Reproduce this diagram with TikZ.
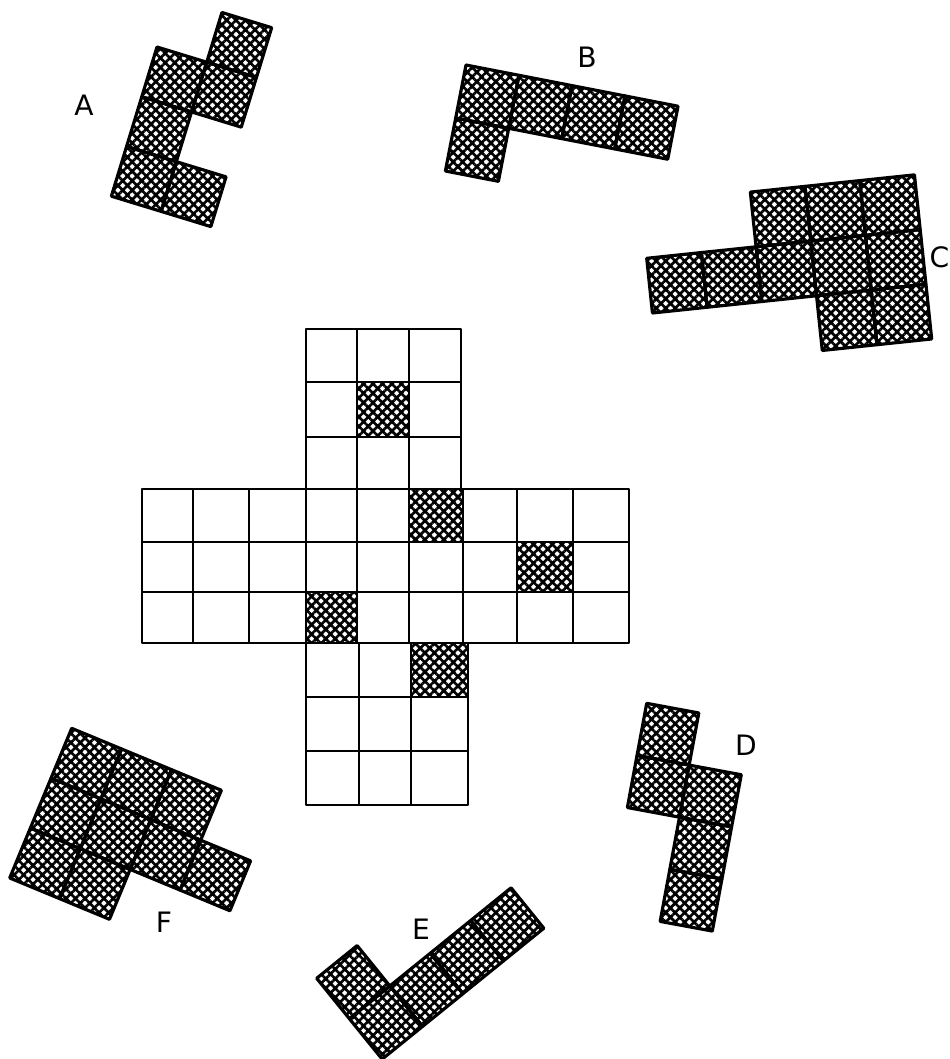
\documentclass[tikz,border=0pt]{standalone}
\usepackage{fontspec}
\setmainfont{DejaVu Sans}
\usetikzlibrary{patterns.meta}
\tikzset{
  gridline/.style={line width=3.5pt, line join=round, line cap=round},
  hatchfill/.style={pattern={Hatch[angle=45,distance=9.5pt,line width=3.8pt]}},
  hatchcell/.style={hatchfill, draw, line width=4.5pt, line join=round},
  lbl/.style={font=\fontsize{40}{40}\selectfont, inner sep=0pt}
}
\newcommand\polypiece[5]{%
  \begin{scope}[shift={(#1,#2)},rotate=#3]
    \foreach \i/\j in {#5}
      \draw[hatchcell] (\i*#4,\j*#4) -- ++(#4,0) -- ++(0,#4) -- ++(-#4,0) -- cycle;
  \end{scope}}
\begin{document}
\begin{tikzpicture}[x=0.05cm,y=-0.05cm]
\useasboundingbox (0,0) rectangle (950,1059);
% central board: hatched cells
\foreach \xa/\ya/\xb/\yb in {357/382/409/437, 409/489/463/542, 517/542/573/592, 306/592/357/643, 411/643/468/697}
  \fill[hatchfill] (\xa,\ya) rectangle (\xb,\yb);
% upper arm
\foreach \xa/\xb in {306/357,357/409,409/461}
  \foreach \ya/\yb in {329/382,382/437,437/489}
    \draw[gridline] (\xa,\ya) rectangle (\xb,\yb);
% horizontal arm
\foreach \xa/\xb in {142/193,193/249,249/306,306/357,357/409,409/463,463/517,517/573,573/629}
  \foreach \ya/\yb in {489/542,542/592,592/643}
    \draw[gridline] (\xa,\ya) rectangle (\xb,\yb);
% lower arm
\foreach \xa/\xb in {306/359,359/411,411/468}
  \foreach \ya/\yb in {643/697,697/751,751/805}
    \draw[gridline] (\xa,\ya) rectangle (\xb,\yb);
% pieces
\polypiece{157}{47}{-17}{52}{0/0,0/1,0/2,1/-1,1/0,1/2}
\polypiece{466}{65}{-11}{54}{0/0,1/0,2/0,3/0,0/1}
\polypiece{646.7}{258.3}{6}{55}{2/-1,3/-1,4/-1,0/0,1/0,2/0,3/0,4/0,3/1,4/1}
\polypiece{646.7}{703.3}{-10.5}{53}{0/0,0/1,1/1,1/2,1/3}
\polypiece{316.7}{978.3}{39}{52}{0/0,0/1,1/1,2/1,3/1}
\polypiece{71.7}{728.3}{-22.5}{54}{0/0,1/0,2/0,0/1,1/1,2/1,3/1,0/2,1/2}
% labels
\node[lbl] (lA) at (84,105) {A};
\node[lbl] (lB) at (587,57) {B};
\node[lbl] (lC) at (939.5,257) {C};
\node[lbl] (lD) at (746,745) {D};
\node[lbl] (lE) at (421,929) {E};
\node[lbl] (lF) at (164,922) {F};
\end{tikzpicture}
\end{document}
